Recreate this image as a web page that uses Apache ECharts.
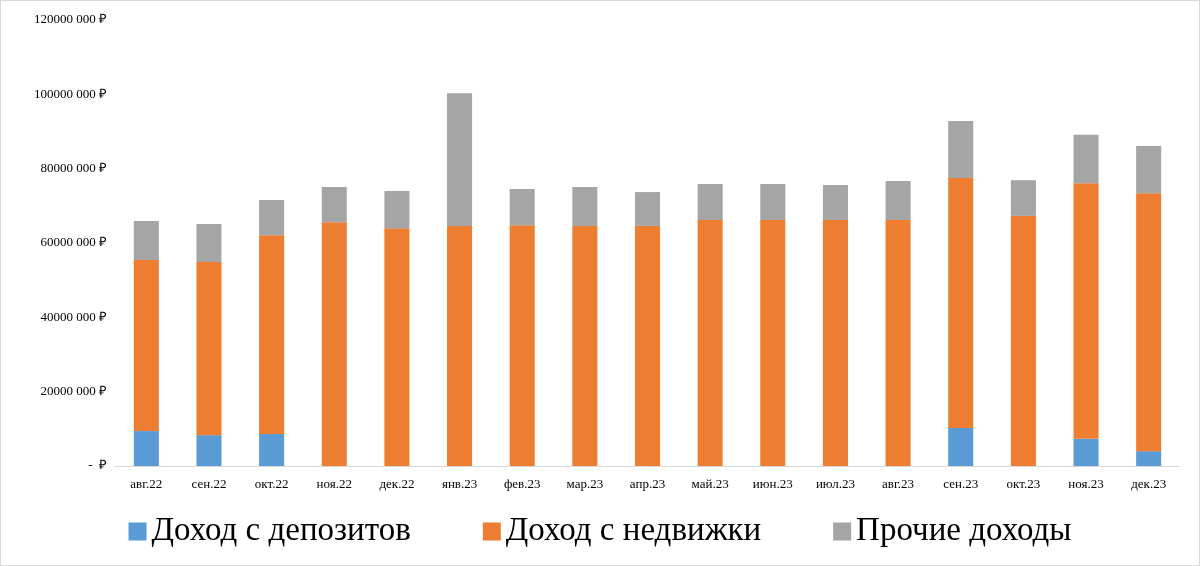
<!DOCTYPE html>
<html>
<head>
<meta charset="utf-8">
<script src="https://cdn.jsdelivr.net/npm/echarts@6/dist/echarts.min.js"></script>
<style>
body { margin: 0; background: #fff; }
#chart { width: 1198px; height: 564px; border: 1px solid #d9d9d9; }
</style>
</head>
<body>
<div id="chart"></div>
<script>
var months = ['авг.22', 'сен.22', 'окт.22', 'ноя.22', 'дек.22', 'янв.23', 'фев.23', 'мар.23', 'апр.23',
	'май.23', 'июн.23', 'июл.23', 'авг.23', 'сен.23', 'окт.23', 'ноя.23', 'дек.23'];
// значения по сериям (руб.)
var deposits = [9400000, 8300000, 8600000, 0, 0, 0, 0, 0, 0, 0, 0, 0, 0, 10200000, 0, 7300000, 4000000];
var realty = [46000000, 46600000, 53500000, 65600000, 64000000, 64600000, 64800000, 64600000, 64600000,
	66200000, 66200000, 66200000, 66200000, 67300000, 67300000, 68800000, 69400000];
var other = [10500000, 10200000, 9500000, 9500000, 10000000, 35700000, 9700000, 10500000, 9100000,
	9700000, 9700000, 9400000, 10500000, 15300000, 9600000, 13000000, 12700000];

function fmt(v) {
	if (v === 0) return '-  ₽';
	var s = String(v);
	return s.slice(0, s.length - 3) + ' ' + s.slice(-3) + ' ₽';
}

var chart = echarts.init(document.getElementById('chart'));
chart.setOption({
	color: ['#5b9bd5', '#ed7d31', '#a5a5a5'],
	textStyle: { fontFamily: 'Liberation Serif' },
	grid: { left: 114, right: 19, top: 19, bottom: 99 },
	legend: {
		bottom: 12,
		itemWidth: 18, itemHeight: 18, itemGap: 72,
		icon: 'rect',
		textStyle: { fontSize: 33, fontFamily: 'Liberation Serif', color: '#000' },
		data: ['Доход с депозитов', 'Доход с недвижки', 'Прочие доходы']
	},
	xAxis: {
		type: 'category',
		data: months,
		axisTick: { show: false },
		axisLine: { lineStyle: { color: '#d9d9d9' } },
		axisLabel: { color: '#000', fontSize: 13, margin: 12 }
	},
	yAxis: {
		type: 'value',
		min: 0, max: 120000000, interval: 20000000,
		axisLabel: { color: '#000', fontSize: 13, formatter: fmt },
		splitLine: { show: false }
	},
	series: [
		{ name: 'Доход с депозитов', type: 'bar', stack: 's', barWidth: '40%', data: deposits },
		{ name: 'Доход с недвижки', type: 'bar', stack: 's', data: realty },
		{ name: 'Прочие доходы', type: 'bar', stack: 's', data: other }
	]
});
</script>
</body>
</html>
